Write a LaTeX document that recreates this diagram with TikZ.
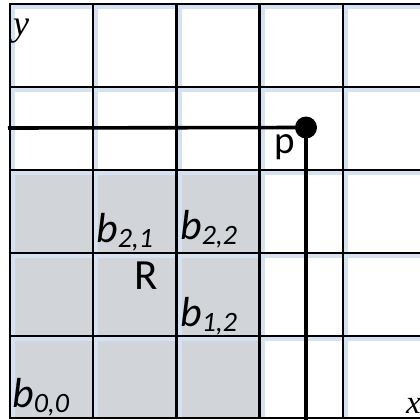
\documentclass[tikz,border=0pt]{standalone}
\usepackage{fontspec}
\setmainfont{Carlito}
\newfontfamily\timesf{Liberation Serif}
\newcommand\mysubs[1]{\raisebox{-5pt}{\fontsize{28}{28}\selectfont #1}}
\definecolor{cellgrey}{RGB}{209,212,217}
\definecolor{glowblue}{RGB}{212,226,244}
\tikzset{
  gridline/.style={line width=2.5pt, black},
  glowline/.style={line width=4pt, glowblue},
  pline/.style={line width=3.6pt, black},
  blabel/.style={anchor=base west, inner sep=0pt, font=\fontsize{42}{42}\selectfont\itshape},
  plain/.style={anchor=base west, inner sep=0pt},
}
\begin{document}
\begin{tikzpicture}[x=1pt,y=-1pt]
\useasboundingbox (0,0) rectangle (420,420);
\fill[white] (0,0) rectangle (420,420);
% grey region
\fill[cellgrey] (10,170) rectangle (259.5,418);
% glow
\foreach \yy in {4,87,170,253,336} \draw[glowline] (10,\yy+3.2) -- (420,\yy+3.2);
\foreach \xx in {10,93,176.5,259.5,343} \draw[glowline] (\xx+3.2,4) -- (\xx+3.2,418);
% grid
\foreach \yy in {4,87,170,253,336,418} \draw[gridline] (10,\yy) -- (420,\yy);
\foreach \xx in {10,93,176.5,259.5,343} \draw[gridline] (\xx,3) -- (\xx,419);
% point p
\node[circle, fill=black, minimum size=22pt, inner sep=0pt] (pdot) at (306,127.5) {};
\coordinate (pleft) at (8,128);
\coordinate (pbottom) at (306,420);
\draw[pline] (pleft) -- (pdot.center);
\draw[pline] (pdot.center) -- (pbottom);
% labels
\node[plain, font=\fontsize{39}{39}\selectfont] (plab) at (274.5,153) {p};
\node[plain, font=\fontsize{43}{43}\selectfont] (Rlab) at (134.5,289) {R};
\node[blabel] (b00) at (12,407) {b\mysubs{0,0}};
\node[blabel] (b21) at (96,242) {b\mysubs{2,1}};
\node[blabel] (b22) at (180,239) {b\mysubs{2,2}};
\node[blabel] (b12) at (180,326) {b\mysubs{1,2}};
\node[plain, font=\fontsize{36}{36}\selectfont\timesf\itshape] (ylab) at (13,36) {y};
\node[plain, font=\fontsize{33}{33}\selectfont\timesf\itshape] (xlab) at (406,413) {x};
\end{tikzpicture}
\end{document}
